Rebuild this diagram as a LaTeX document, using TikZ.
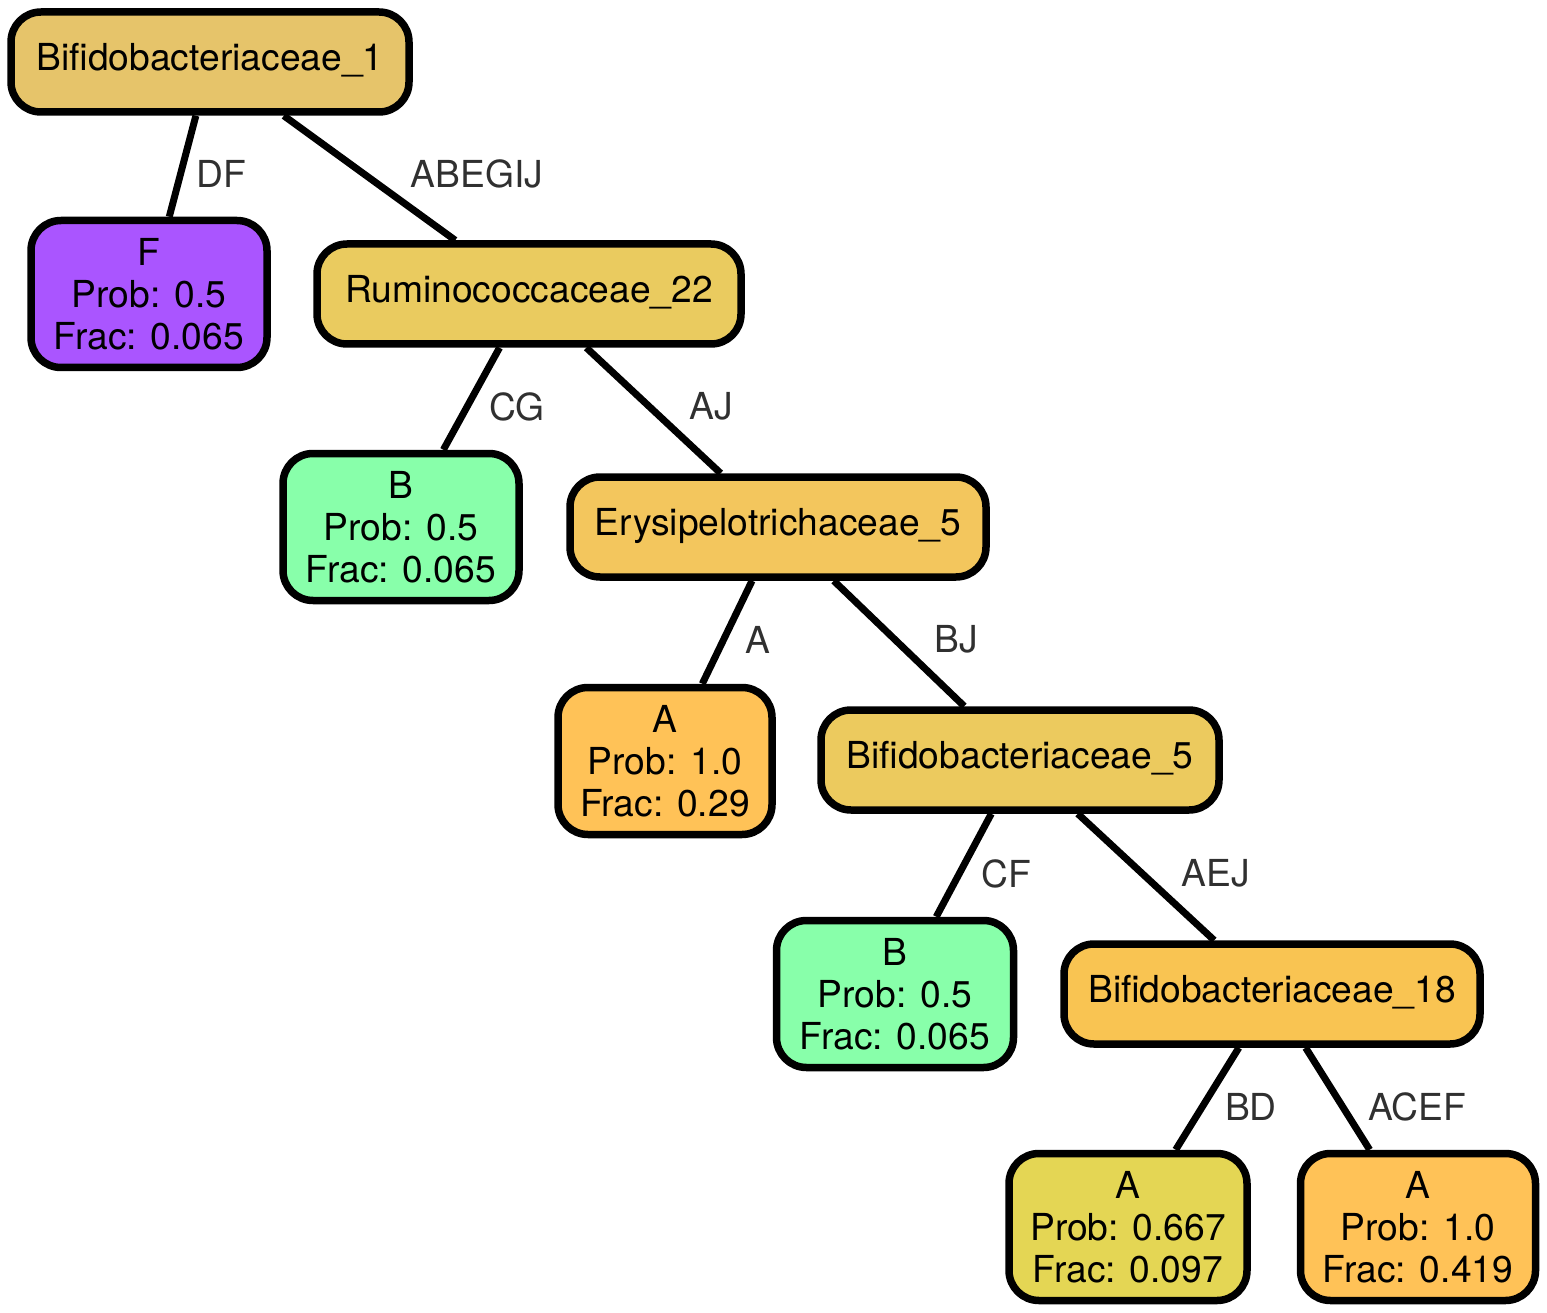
\documentclass[tikz,border=0pt]{standalone}
\usepackage{fontspec}
\setmainfont{TeX Gyre Heros}
\usetikzlibrary{positioning, calc}

\definecolor{bifoneC}{HTML}{E6C46A}
\definecolor{rumC}{HTML}{EACB5F}
\definecolor{erysC}{HTML}{F3C65D}
\definecolor{biffiveC}{HTML}{ECCA5E}
\definecolor{bifeightC}{HTML}{F9C452}
\definecolor{purpleC}{HTML}{AA55FF}
\definecolor{greenC}{HTML}{88FFAA}
\definecolor{orangeC}{HTML}{FFC257}
\definecolor{yellowC}{HTML}{E4D654}
\definecolor{labelC}{HTML}{303030}

\begin{document}
\begin{tikzpicture}[
    x=1pt, y=-1pt,
    % Split node style
    splitbox/.style={
        rectangle,
        rounded corners=30pt,
        draw=black,
        line width=7.5pt,
        minimum height=100pt,
        inner sep=0pt,
        text height=27pt,
        text depth=10pt,
        font=\fontsize{37.2}{42}\selectfont
    },
    % Leaf node style
    leafbox/.style={
        rectangle,
        rounded corners=30pt,
        draw=black,
        line width=7.5pt,
        minimum width=236pt,
        minimum height=147pt,
        inner sep=0pt,
        font=\fontsize{37.2}{42}\selectfont,
        align=center
    },
    edge/.style={
        line width=7pt,
        black
    },
    edgelabel/.style={
        font=\fontsize{37.2}{42}\selectfont,
        text=labelC,
        inner sep=0pt
    }
]
\useasboundingbox (0,0) rectangle (1547,1313);

% === Level 1 ===
\node[splitbox, fill=bifoneC, minimum width=398pt] (bif1) at (210, 62) {Bifidobacteriaceae\_1};
\node[leafbox, fill=purpleC] (leafF) at (149, 294) {F\\Prob: 0.5\\Frac: 0.065};
\node[splitbox, fill=rumC, minimum width=424pt] (rum22) at (529, 294) {Ruminococcaceae\_22};

\draw[edge] (bif1) -- (leafF);
\draw[edge] (bif1) -- (rum22);
\node[edgelabel] (lDF) at (221, 173.5) {DF};
\node[edgelabel] (lABEGIJ) at (477, 173.5) {ABEGIJ};

% === Level 2 ===
\node[leafbox, fill=greenC] (leafB1) at (401, 527) {B\\Prob: 0.5\\Frac: 0.065};
\node[splitbox, fill=erysC, minimum width=416pt] (erys5) at (778, 527) {Erysipelotrichaceae\_5};

\draw[edge] (rum22) -- (leafB1);
\draw[edge] (rum22) -- (erys5);
\node[edgelabel] (lCG) at (517, 406.5) {CG};
\node[edgelabel] (lAJ) at (711, 406.5) {AJ};

% === Level 3 ===
\node[leafbox, fill=orangeC, minimum width=214pt] (leafA1) at (665, 761) {A\\Prob: 1.0\\Frac: 0.29};
\node[splitbox, fill=biffiveC, minimum width=398pt] (bif5) at (1020, 760) {Bifidobacteriaceae\_5};

\draw[edge] (erys5) -- (leafA1);
\draw[edge] (erys5) -- (bif5);
\node[edgelabel] (lA) at (758, 639.5) {A};
\node[edgelabel] (lBJ) at (956, 639.5) {BJ};

% === Level 4 ===
\node[leafbox, fill=greenC, minimum width=237pt] (leafB2) at (895, 994) {B\\Prob: 0.5\\Frac: 0.065};
\node[splitbox, fill=bifeightC, minimum width=416pt] (bif18) at (1272, 994) {Bifidobacteriaceae\_18};

\draw[edge] (bif5) -- (leafB2);
\draw[edge] (bif5) -- (bif18);
\node[edgelabel] (lCF) at (1006, 873.5) {CF};
\node[edgelabel] (lAEJ) at (1216, 873.5) {AEJ};

% === Level 5 ===
\node[leafbox, fill=yellowC, minimum width=238pt] (leafA2) at (1128, 1227) {A\\Prob: 0.667\\Frac: 0.097};
\node[leafbox, fill=orangeC, minimum width=235pt] (leafA3) at (1418, 1227) {A\\Prob: 1.0\\Frac: 0.419};

\draw[edge] (bif18) -- (leafA2);
\draw[edge] (bif18) -- (leafA3);
\node[edgelabel] (lBD) at (1251, 1106.5) {BD};
\node[edgelabel] (lACEF) at (1417, 1106.5) {ACEF};

\end{tikzpicture}
\end{document}
